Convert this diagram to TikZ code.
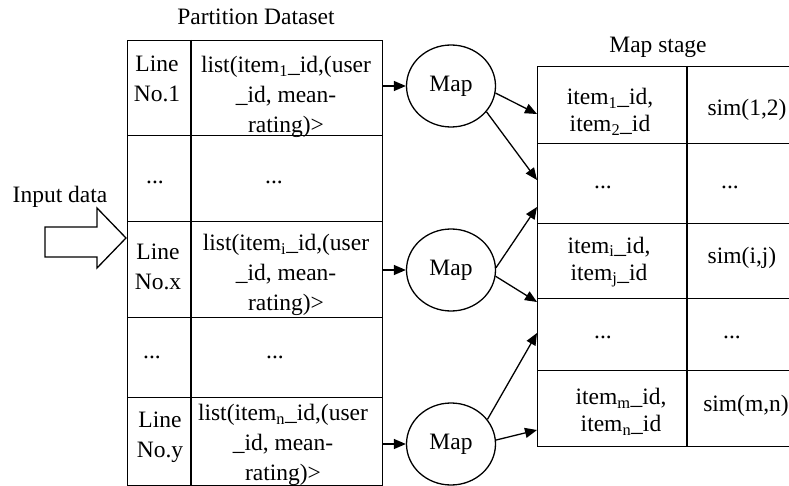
\documentclass[tikz,border=0pt]{standalone}
\usepackage{fontspec}
\setmainfont{Liberation Serif}
\usetikzlibrary{arrows.meta,shapes.geometric}

\tikzset{
    txt/.style={font=\fontsize{23.5}{30}\selectfont, align=center, inner sep=0pt},
    pairtxt/.style={font=\fontsize{23.5}{27}\selectfont, align=center, inner sep=0pt},
    rowbox/.style={draw, line width=1.3pt, anchor=north west, inner sep=0pt},
    mapnode/.style={draw, ellipse, line width=1.3pt, minimum width=89pt, minimum height=82pt,
        inner sep=0pt, font=\fontsize{23.5}{30}\selectfont},
    arr/.style={line width=1.3pt, -{Triangle[length=12pt,width=10pt]}},
}

\begin{document}
\begin{tikzpicture}[x=1pt,y=-1pt]
    \useasboundingbox (0,0) rectangle (789,486);
    \clip (0,0) rectangle (789,486);

            % partition dataset
            \node[txt] (parttitle) at (256,17) {Partition Dataset};
            \node[rowbox, minimum width=255pt, minimum height=95pt] (part1) at (127,40) {};
            \node[rowbox, minimum width=255pt, minimum height=86pt] (part2) at (127,135) {};
            \node[rowbox, minimum width=255pt, minimum height=96pt] (part3) at (127,221) {};
            \node[rowbox, minimum width=255pt, minimum height=80pt] (part4) at (127,317) {};
            \node[rowbox, minimum width=255pt, minimum height=88pt] (part5) at (127,397) {};
            \draw[line width=1.3pt] (191,40) -- (191,485);

            \node[txt] (lineno1) at (157,79) {Line\\No.1};
            \node[txt] (list1) at (286,97) {list(item\textsubscript{1}\_id,(user\\\_id, mean-\\rating)>};
            \node[txt] (dotsa) at (155,182) {...};
            \node[txt] (dotsb) at (274,182) {...};
            \node[txt] (linenox) at (158,267) {Line\\No.x};
            \node[txt] (listi) at (286,275) {list(item\textsubscript{i}\_id,(user\\\_id, mean-\\rating)>};
            \node[txt] (dotsc) at (152,357) {...};
            \node[txt] (dotsd) at (275,357) {...};
            \node[txt] (linenoy) at (160,437) {Line\\No.y};
            \node[txt] (listn) at (283,445) {list(item\textsubscript{n}\_id,(user\\\_id, mean-\\rating)>};

            % input arrow
            \node[txt] (inputlabel) at (60,197) {Input data};
            \draw[line width=1.3pt] (45,227) -- (97,227) -- (97,208) -- (126,238)
                -- (97,268) -- (97,257) -- (45,257) -- cycle;

            % map stage
            \node[txt] (stagetitle) at (658,47) {Map stage};
            \node[rowbox, minimum width=270pt, minimum height=77pt] (stage1) at (537,66) {};
            \node[rowbox, minimum width=270pt, minimum height=80pt] (stage2) at (537,143) {};
            \node[rowbox, minimum width=270pt, minimum height=75pt] (stage3) at (537,223) {};
            \node[rowbox, minimum width=270pt, minimum height=72pt] (stage4) at (537,298) {};
            \node[rowbox, minimum width=270pt, minimum height=76pt] (stage5) at (537,370) {};
            \draw[line width=1.3pt] (687,66) -- (687,446);

            \node[pairtxt] (pair12) at (610,112) {item\textsubscript{1}\_id,\\item\textsubscript{2}\_id};
            \node[txt] (sim12) at (747,110) {sim(1,2)};
            \node[txt] (dotse) at (603,187) {...};
            \node[txt] (dotsf) at (730,187) {...};
            \node[pairtxt] (pairij) at (609,262) {item\textsubscript{i}\_id,\\item\textsubscript{j}\_id};
            \node[txt] (simij) at (742,258) {sim(i,j)};
            \node[txt] (dotsg) at (603,337) {...};
            \node[txt] (dotsh) at (732,337) {...};
            \node[pairtxt] (pairmn) at (621,412) {item\textsubscript{m}\_id,\\item\textsubscript{n}\_id};
            \node[txt] (simmn) at (746,406) {sim(m,n)};

            % map nodes
            \node[mapnode] (map1) at (451,86) {Map};
            \node[mapnode] (map2) at (451,270) {Map};
            \node[mapnode] (map3) at (451,444) {Map};

            \draw[arr] (part1.east |- map1.west) -- (map1.west);
            \draw[arr] (part3.east |- map2.west) -- (map2.west);
            \draw[arr] (part5.east |- map3.west) -- (map3.west);

            \coordinate (in1) at (537,114);
            \coordinate (in2) at (537,180);
            \coordinate (in3) at (537,207);
            \coordinate (in4) at (537,302);
            \coordinate (in5) at (537,333);
            \coordinate (in6) at (537,430);
            \draw[arr] (map1.-9) -- (in1);
            \draw[arr] (map1.-36) -- (in2);
            \draw[arr] (map2.3) -- (in3);
            \draw[arr] (map2.-8) -- (in4);
            \draw[arr] (map3.34) -- (in5);
            \draw[arr] (map3.5) -- (in6);
        \end{tikzpicture}
\end{document}
